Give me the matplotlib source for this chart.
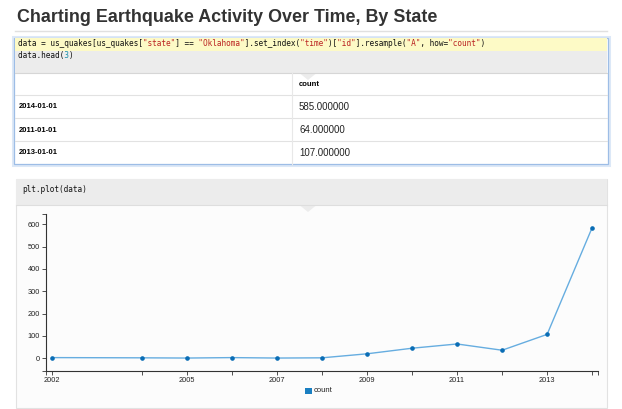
import matplotlib
matplotlib.use("Agg")
import matplotlib.pyplot as plt
from matplotlib.patches import Rectangle, Polygon

years = [2002, 2004, 2005, 2006, 2007, 2008, 2009, 2010, 2011, 2012, 2013, 2014]
counts = [3, 2, 1, 3, 1, 2, 20, 45, 64, 36, 107, 585]
head_index = ["2014-01-01", "2011-01-01", "2013-01-01"]
head_values = [585.0, 64.0, 107.0]
xtick_years = [2002, 2004, 2005, 2006, 2007, 2008, 2009, 2010, 2011, 2012, 2013, 2014]
xlabel_years = [2002, 2005, 2007, 2009, 2011, 2013]
yticks = [0, 100, 200, 300, 400, 500, 600]

W, H = 622, 409
fig = plt.figure(figsize=(W / 100, H / 100), dpi=100)
fig.patch.set_facecolor("white")

bg = fig.add_axes([0, 0, 1, 1])
bg.set_xlim(0, W)
bg.set_ylim(H, 0)
bg.axis("off")

sans = "Liberation Sans"
mono = "DejaVu Sans Mono"

# title
bg.text(17, 18, "Charting Earthquake Activity Over Time, By State", fontsize=12.9,
        fontweight="bold", family=sans, color="#333333", va="center", ha="left")
bg.plot([15, 607], [31, 31], color="#e0e0e0", lw=1)

# first cell
bg.add_patch(Rectangle((13, 36.5), 596, 128.5, fc="none", ec="#dce8f7", lw=2.2))
bg.add_patch(Rectangle((14, 37.5), 594, 126.5, fc="white", ec="#9dbde6", lw=0.9))
bg.add_patch(Rectangle((15, 38), 592, 35, fc="#ececec", ec="none"))
bg.add_patch(Rectangle((15, 38), 592, 12.5, fc="#fdfac6", ec="none"))
bg.plot([15, 607], [73, 73], color="#d6d6d6", lw=0.8)
bg.add_patch(Polygon([[300, 73.5], [316, 73.5], [308, 80]], closed=True,
                     fc="#ececec", ec="none"))


def code_line(x, y, parts, fs):
    # monospace: one text per colour, other characters blanked with spaces
    colours = {}
    for tok, col in parts:
        colours.setdefault(col, None)
    for col in colours:
        s = "".join(tok if c == col else " " * len(tok) for tok, c in parts)
        bg.text(x, y, s, family=mono, fontsize=fs, va="center", ha="left", color=col)


cw = 4.65
fs_mono = cw / 0.602 * 72 / 100
K, S, N = "#111111", "#ba2121", "#1a8fa8"
code_line(18, 44, [("data = us_quakes[us_quakes[", K), ('"state"', S), ("] == ", K),
                   ('"Oklahoma"', S), ("].set_index(", K), ('"time"', S), (")[", K),
                   ('"id"', S), ("].resample(", K), ('"A"', S), (", how=", K),
                   ('"count"', S), (")", K)], fs_mono)
code_line(18, 55.5, [("data.head(", K), ("3", N), (")", K)], fs_mono)

# table
for y in [95, 118, 141]:
    bg.plot([15, 607], [y, y], color="#e2e2e2", lw=0.8)
bg.plot([292, 292], [73, 164], color="#e8e8e8", lw=0.8)
bg.text(299, 85, "count", family=sans, fontsize=5.5, fontweight="bold", va="center")
for i, (idx, val) in enumerate(zip(head_index, head_values)):
    yc = 107 + i * 23
    bg.text(19, yc, idx, family=sans, fontsize=5.5, fontweight="bold", va="center")
    bg.text(299, yc, "%.6f" % val, family=sans, fontsize=7, va="center", color="#222222")

# second cell
bg.add_patch(Rectangle((15.5, 178.5), 591.5, 229, fc="#fcfcfc", ec="#e2e2e2", lw=0.8))
bg.add_patch(Rectangle((16, 179), 590.5, 26, fc="#ececec", ec="none"))
bg.plot([16, 606.5], [205, 205], color="#dedede", lw=0.8)
bg.add_patch(Polygon([[300, 205.5], [316, 205.5], [308, 212]], closed=True,
                     fc="#ececec", ec="none"))
code_line(22, 190, [("plt.plot(data)", K)], fs_mono)

# chart
left, right, top, bottom = 46, 598, 214, 371
ax = fig.add_axes([left / W, (H - bottom) / H, (right - left) / W, (bottom - top) / H])
ax.patch.set_alpha(0)
ax.plot(years, counts, color="#66ade0", lw=1, marker="o", ms=2.3,
        mfc="#0a6db5", mec="#0a6db5", label="count")
ax.set_xlim(2001.87, 2014.13)
ax.set_ylim(-57, 646)
for s in ["top", "right"]:
    ax.spines[s].set_visible(False)
for s in ["left", "bottom"]:
    ax.spines[s].set_color("#333333")
    ax.spines[s].set_linewidth(0.8)
ax.set_yticks(yticks)
ax.set_yticklabels([str(v) for v in yticks])
ax.set_xticks(xtick_years)
ax.set_xticklabels([str(y) if y in xlabel_years else "" for y in xtick_years])
ax.set_xticks([2001.87, 2014.13], minor=True)
ax.set_yticks([-57, 646], minor=True)
ax.tick_params(which="both", length=3, width=0.6, color="#333333", labelsize=5.3,
               labelcolor="#222222", pad=1.5)
for lab in ax.get_xticklabels() + ax.get_yticklabels():
    lab.set_family(sans)

# legend
bg.add_patch(Rectangle((305, 387.5), 6.5, 6.5, fc="#1a7fc1", ec="none"))
bg.text(314, 391, "count", family=sans, fontsize=5.5, va="center", color="#222222")

fig.savefig("out.png", dpi=100, facecolor="white")
